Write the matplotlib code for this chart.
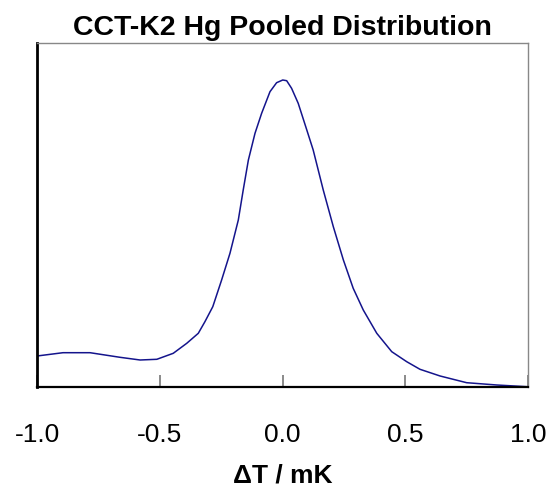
import matplotlib
matplotlib.use("Agg")
import matplotlib.pyplot as plt

delta_t = [-1.0, -0.894, -0.784, -0.662, -0.580, -0.512, -0.445, -0.390, -0.343, -0.316,
           -0.284, -0.248, -0.214, -0.180, -0.160, -0.139, -0.112, -0.085, -0.051, -0.024,
           0.001, 0.017, 0.037, 0.064, 0.099, 0.125, 0.166, 0.207, 0.248, 0.288,
           0.329, 0.384, 0.445, 0.506, 0.560, 0.642, 0.750, 0.873, 0.995]
density = [0.310, 0.343, 0.343, 0.297, 0.270, 0.277, 0.337, 0.437, 0.537, 0.653,
           0.803, 1.070, 1.337, 1.670, 1.970, 2.270, 2.537, 2.737, 2.953, 3.043,
           3.070, 3.063, 2.987, 2.837, 2.570, 2.370, 1.970, 1.603, 1.270, 0.987,
           0.770, 0.537, 0.353, 0.253, 0.177, 0.110, 0.043, 0.020, 0.003]
xticks = [-1.0, -0.5, 0.0, 0.5, 1.0]
xticklabels = ["-1.0", "-0.5", "0.0", "0.5", "1.0"]

plt.rcParams['font.family'] = ['Liberation Sans', 'DejaVu Sans']

fig = plt.figure(figsize=(5.54, 4.92), dpi=100)
ax = fig.add_axes([37/554, 1-387/492, (528-37)/554, (387-43)/492])
ax.plot(delta_t, density, color='#14148c', lw=1.1, solid_joinstyle='round')
ax.set_xlim(-1.0, 1.0)
ax.set_ylim(0, 3.44)
ax.set_yticks([])
ax.set_xticks(xticks)
ax.set_xticklabels(xticklabels, fontsize=19)
ax.tick_params(axis='x', direction='in', length=9, width=1.2, color='#777777', pad=26)
for s in ['top', 'right']:
    ax.spines[s].set_color('#888888')
    ax.spines[s].set_linewidth(1.0)
ax.spines['left'].set_color('black')
ax.spines['left'].set_linewidth(2.0)
ax.spines['bottom'].set_color('black')
ax.spines['bottom'].set_linewidth(1.6)
ax.set_title("CCT-K2 Hg Pooled Distribution", fontsize=20.5, fontweight='bold', pad=6)
ax.set_xlabel("ΔT / mK", fontsize=19, fontweight='bold', labelpad=12)
fig.savefig("out.png", dpi=100)
